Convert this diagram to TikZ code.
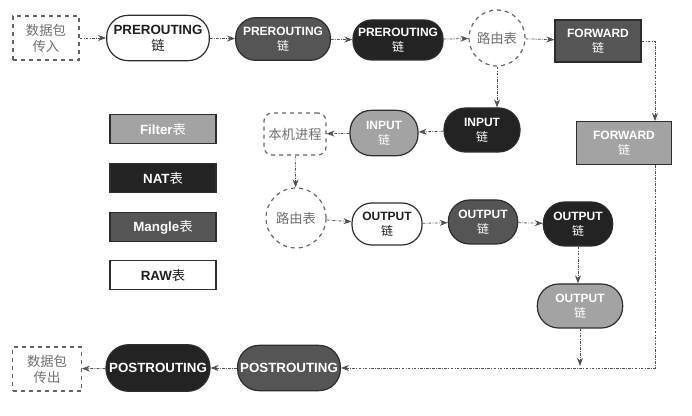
\documentclass[tikz,border=0pt]{standalone}
\usepackage{fontspec}
\setmainfont{Liberation Sans}
\newfontfamily\cjk{Noto Sans CJK SC}
\usetikzlibrary{arrows.meta}

\tikzset{every picture/.style={line width=0.75pt}}
\tikzset{
	chainbox/.style={draw={rgb, 255:red, 45; green, 45; blue, 45 }, line width=0.9pt, align=center, inner sep=1pt, font=\bfseries\fontsize{9}{11.5}\selectfont},
	bigtext/.style={font=\bfseries\fontsize{10}{12}\selectfont},
	whitefill/.style={fill=white, text={rgb, 255:red, 30; green, 30; blue, 30 }},
	lightfill/.style={fill={rgb, 255:red, 163; green, 163; blue, 163 }, text=white},
	darkfill/.style={fill={rgb, 255:red, 85; green, 85; blue, 85 }, text=white},
	blackfill/.style={fill={rgb, 255:red, 35; green, 35; blue, 35 }, text=white},
	tablebox/.style={draw={rgb, 255:red, 45; green, 45; blue, 45 }, line width=0.9pt, minimum width=79.5pt, minimum height=21.75pt, inner sep=1pt, font=\bfseries\fontsize{10}{12}\selectfont},
	dashbox/.style={draw={rgb, 255:red, 100; green, 100; blue, 100 }, dashed, line width=0.9pt, align=center, inner sep=1pt, text={rgb, 255:red, 110; green, 110; blue, 110 }, font=\cjk\fontsize{10}{12}\selectfont},
	routecircle/.style={dashbox, circle},
	flow/.style={draw={rgb, 255:red, 80; green, 80; blue, 80 }, line width=0.6pt, dash pattern=on 2pt off 1pt on 0.6pt off 1pt, -{Stealth[length=6pt,width=4.5pt]}}
}

\begin{document}
\begin{tikzpicture}[x=0.75pt,y=0.75pt,yscale=-1,xscale=1]
	\useasboundingbox (0,0) rectangle (692,416);

	% Legend
	\node[tablebox, lightfill] (filter) at (163,129) {Filter{\cjk\mdseries 表}};
	\node[tablebox, blackfill] (nat) at (163,178) {NAT{\cjk\mdseries 表}};
	\node[tablebox, darkfill] (mangle) at (163,227) {Mangle{\cjk\mdseries 表}};
	\node[tablebox, whitefill] (raw) at (163,275) {RAW{\cjk\mdseries 表}};

	% Top row
	\node[dashbox, minimum width=49.5pt, minimum height=33pt] (pktin) at (46,38) {数据包\\传入};
	\node[chainbox, bigtext, whitefill, rounded corners=16pt, minimum width=77pt, minimum height=34pt] (pre1) at (158,38) {PREROUTING\\{\cjk\mdseries 链}};
	\node[chainbox, darkfill, rounded corners=15pt, minimum width=71pt, minimum height=32pt] (pre2) at (283,39) {PREROUTING\\{\cjk\mdseries 链}};
	\node[chainbox, blackfill, rounded corners=14pt, minimum width=67.5pt, minimum height=30pt] (pre3) at (398,40) {PREROUTING\\{\cjk\mdseries 链}};
	\node[routecircle, minimum size=42pt] (route1) at (497,38) {路由表};
	\node[chainbox, darkfill, minimum width=64.5pt, minimum height=31.5pt] (fwd1) at (598,41) {FORWARD\\{\cjk\mdseries 链}};

	% Forward branch
	\node[chainbox, lightfill, minimum width=71pt, minimum height=32pt] (fwd2) at (624,143) {FORWARD\\{\cjk\mdseries 链}};
	\coordinate (fwdturn) at (655,41);

	% Input branch
	\node[chainbox, blackfill, rounded corners=16pt, minimum width=57pt, minimum height=33pt] (inp1) at (482,130) {INPUT\\{\cjk\mdseries 链}};
	\node[chainbox, lightfill, rounded corners=16pt, minimum width=51pt, minimum height=34pt] (inp2) at (384,133) {INPUT\\{\cjk\mdseries 链}};
	\node[dashbox, rounded corners=6pt, minimum width=46.5pt, minimum height=31.5pt] (local) at (295,134) {本机进程};

	% Output branch
	\node[routecircle, minimum size=45pt] (route2) at (296,218) {路由表};
	\node[chainbox, whitefill, rounded corners=15pt, minimum width=52.5pt, minimum height=31.5pt] (out1) at (387,224) {OUTPUT\\{\cjk\mdseries 链}};
	\node[chainbox, darkfill, rounded corners=16pt, minimum width=52pt, minimum height=33pt] (out2) at (483,222) {OUTPUT\\{\cjk\mdseries 链}};
	\node[chainbox, blackfill, rounded corners=16pt, minimum width=52pt, minimum height=33pt] (out3) at (578,224) {OUTPUT\\{\cjk\mdseries 链}};
	\node[chainbox, lightfill, rounded corners=16pt, minimum width=64pt, minimum height=33pt] (out4) at (580,306) {OUTPUT\\{\cjk\mdseries 链}};
	\coordinate (outdrop) at (580,366);

	% Bottom row
	\node[chainbox, bigtext, darkfill, rounded corners=16pt, minimum width=77pt, minimum height=34pt] (post1) at (289,368) {POSTROUTING};
	\node[chainbox, bigtext, blackfill, rounded corners=17pt, minimum width=78pt, minimum height=35pt] (post2) at (158,368) {POSTROUTING};
	\node[dashbox, minimum width=51.5pt, minimum height=33pt] (pktout) at (47,369) {数据包\\传出};

	% Connectors
	\draw[flow] (pktin) -- (pre1);
	\draw[flow] (pre1) -- (pre2);
	\draw[flow] (pre2) -- (pre3);
	\draw[flow] (pre3) -- (route1);
	\draw[flow] (route1) -- (fwd1);
	\draw[flow] (fwd1.east) -- (fwdturn) -- (fwdturn |- fwd2.north);
	\draw[flow] (route1.south) -- (route1.south |- inp1.north);
	\draw[flow] (inp1) -- (inp2);
	\draw[flow] (inp2) -- (local);
	\draw[flow] (local) -- (route2);
	\draw[flow] (route2) -- (out1);
	\draw[flow] (out1) -- (out2);
	\draw[flow] (out2) -- (out3);
	\draw[flow] (out3) -- (out3.south |- out4.north);
	\draw[flow] (out4.south -| outdrop) -- (outdrop);
	\draw[flow] (fwdturn |- fwd2.south) |- (post1.east);
	\draw[flow] (post1) -- (post2);
	\draw[flow] (post2) -- (pktout);

\end{tikzpicture}
\end{document}
